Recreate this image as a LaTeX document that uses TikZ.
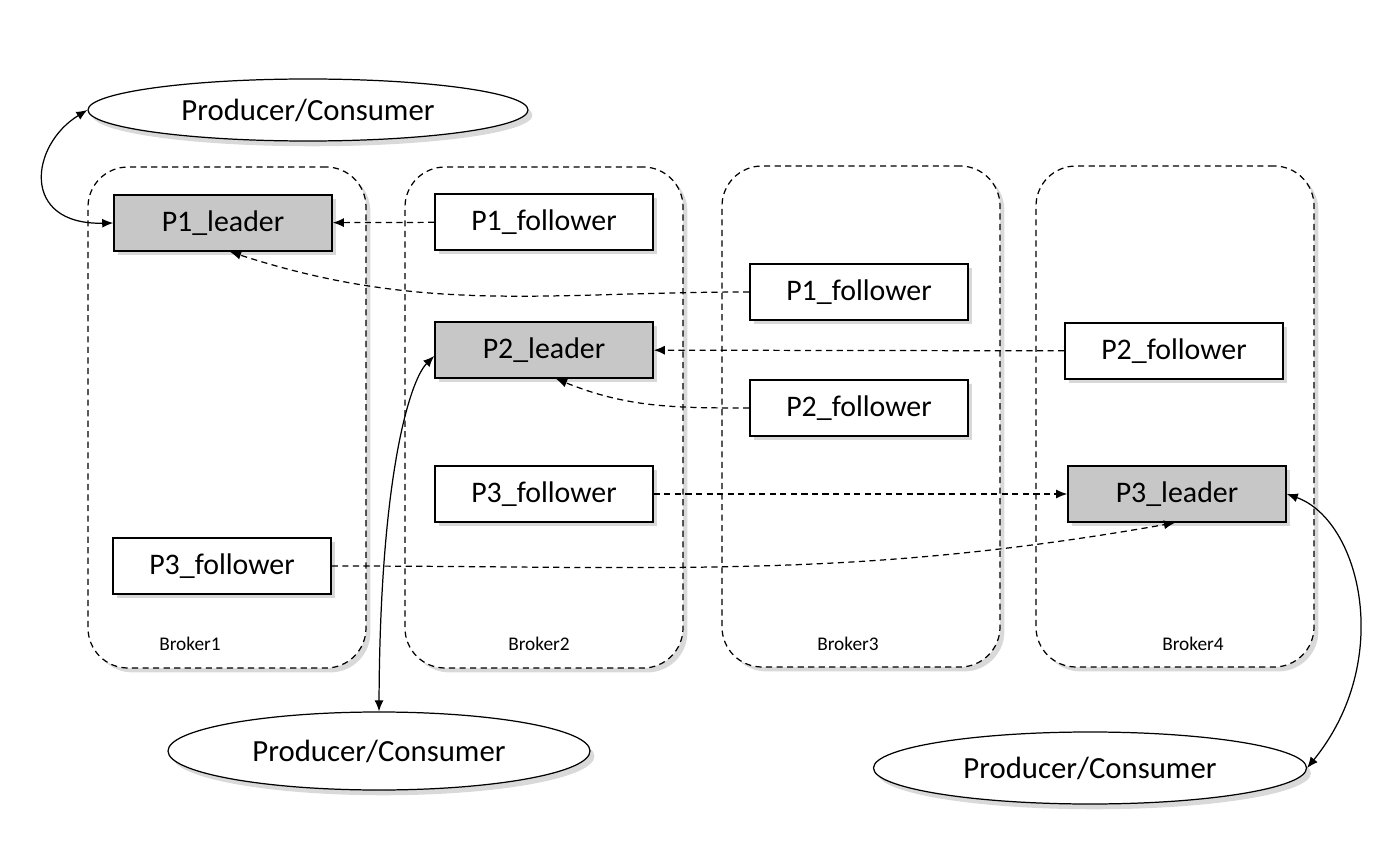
\documentclass[tikz,border=0pt]{standalone}
\usepackage{fontspec}
\setmainfont{Carlito}
\usepackage{tikz}
\usetikzlibrary{arrows.meta,shapes.geometric,shadows}

\begin{document}
\begin{tikzpicture}[>={Latex[length=2.2mm,width=1.8mm]},
	broker/.style={draw, dashed, dash pattern=on 3.5pt off 2.5pt, line width=0.7pt, rounded corners=0.8cm, fill=white, minimum width=5.56cm, minimum height=10.02cm, drop shadow={opacity=0.3, shadow xshift=2.5pt, shadow yshift=-2.5pt}},
	part/.style={draw, line width=0.9pt, fill=white, minimum width=4.36cm, minimum height=1.12cm, font=\fontsize{17}{20}\selectfont, drop shadow={opacity=0.3, shadow xshift=2.5pt, shadow yshift=-2.5pt}},
	lead/.style={part, fill=black!22},
	client/.style={draw, ellipse, line width=0.7pt, fill=white, inner sep=0pt, font=\fontsize{17.5}{20}\selectfont, drop shadow={opacity=0.3, shadow xshift=2.5pt, shadow yshift=-3pt}},
	repl/.style={->, dashed, dash pattern=on 3.5pt off 2.5pt, line width=0.7pt},
	io/.style={<->, line width=0.7pt},
	blabel/.style={font=\fontsize{11}{13}\selectfont}]
	\useasboundingbox (0,0) rectangle (27.76,-16.92);
	% brokers
	\node[broker] (b1) at (4.54,-8.35) {};
	\node[broker] (b2) at (10.88,-8.35) {};
	\node[broker] (b3) at (17.22,-8.33) {};
	\node[broker] (b4) at (23.5,-8.33) {};
	\node[blabel] (l1) at (3.8,-12.88) {Broker1};
	\node[blabel] (l2) at (10.78,-12.88) {Broker2};
	\node[blabel] (l3) at (16.96,-12.88) {Broker3};
	\node[blabel] (l4) at (23.86,-12.88) {Broker4};
	% partitions
	\node[lead] (p1l) at (4.46,-4.46) {P1\_leader};
	\node[part] (p1f2) at (10.88,-4.44) {P1\_follower};
	\node[part] (p1f3) at (17.18,-5.84) {P1\_follower};
	\node[lead] (p2l) at (10.88,-7.0) {P2\_leader};
	\node[part] (p2f4) at (23.48,-7.02) {P2\_follower};
	\node[part] (p2f3) at (17.18,-8.16) {P2\_follower};
	\node[part] (p3f2) at (10.88,-9.88) {P3\_follower};
	\node[lead] (p3l) at (23.54,-9.88) {P3\_leader};
	\node[part] (p3f1) at (4.44,-11.32) {P3\_follower};
	% clients
	\node[client, minimum width=8.8cm, minimum height=1.24cm] (pc1) at (6.16,-2.2) {Producer/Consumer};
	\node[client, minimum width=8.44cm, minimum height=1.56cm] (pc2) at (7.58,-15.02) {Producer/Consumer};
	\node[client, minimum width=8.66cm, minimum height=1.44cm] (pc3) at (21.8,-15.36) {Producer/Consumer};
	% replication
	\draw[repl] (p1f2) -- (p1l);
	\draw[repl] (p1f3.west) to[out=180, in=-18] ([xshift=0.14cm]p1l.south);
	\draw[repl] (p2f4) -- (p2l);
	\draw[repl] (p2f3.west) to[out=180, in=-22] ([xshift=0.24cm]p2l.south);
	\draw[repl] (p3f2) -- (p3l);
	\draw[repl] (p3f1.east) to[out=0, in=-170] ([xshift=-0.04cm]p3l.south);
	% read / write
	\draw[io] (pc1.west) .. controls (0.6,-2.9) and (0.4,-4.5) .. (p1l.west);
	\draw[io] ([yshift=-0.12cm]p2l.west) .. controls (8.2,-7.6) and (7.6,-9.5) .. (pc2.north);
	\draw[io] (p3l.east) .. controls (27.2,-10.4) and (27.9,-13.2) .. (pc3.east);
\end{tikzpicture}
\end{document}
